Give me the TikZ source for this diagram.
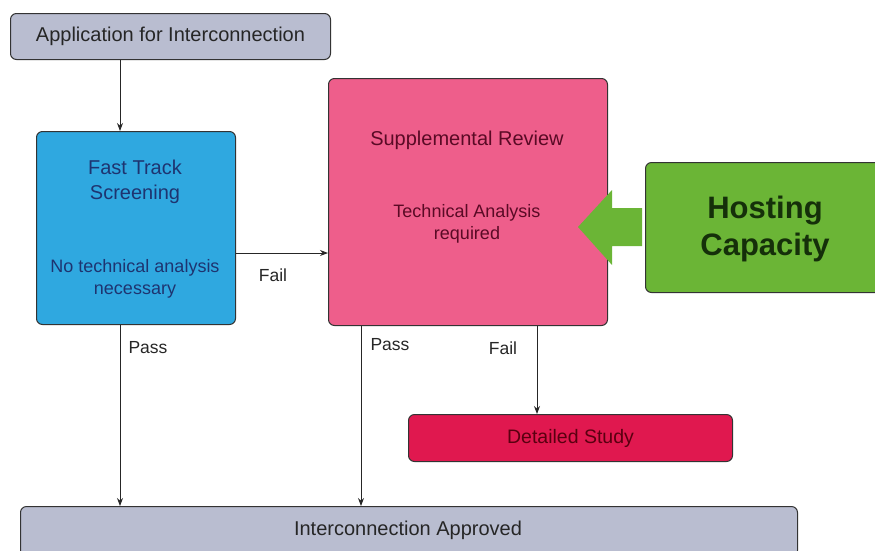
\documentclass[tikz,border=0pt]{standalone}
\usepackage{fontspec}
\setmainfont{Liberation Sans}
\usetikzlibrary{arrows.meta}
\definecolor{graybox}{HTML}{B9BDD0}
\definecolor{bluebox}{HTML}{2FA8E0}
\definecolor{bluetext}{HTML}{1E3470}
\definecolor{pinkbox}{HTML}{EE5E8B}
\definecolor{pinktext}{HTML}{5A0A25}
\definecolor{greenbox}{HTML}{6BB536}
\definecolor{greentext}{HTML}{15300A}
\definecolor{redbox}{HTML}{E0184F}
\definecolor{redtext}{HTML}{5A0010}
\begin{document}
\begin{tikzpicture}[x=1pt,y=-1pt,
  box/.style={draw=black!80, line width=1pt, rounded corners=6pt, anchor=north west, inner sep=0pt},
  conn/.style={draw=black!85, line width=0.9pt, -{Stealth[length=8pt,width=6pt]}},
  lbl/.style={font=\fontsize{17.5}{20}\selectfont, text=black!85}]
\useasboundingbox (0,0) rectangle (875,550);
% boxes
\node[box, fill=graybox, minimum width=320pt, minimum height=46pt, font=\fontsize{20}{24}\selectfont, text=black!85] (app) at (10,13) {Application for Interconnection};
\node[box, fill=bluebox, minimum width=199pt, minimum height=193pt] (fast) at (36,131) {};
\node[font=\fontsize{20}{25}\selectfont, text=bluetext, align=center] at (135,182) {Fast Track\\Screening};
\node[font=\fontsize{18}{22}\selectfont, text=bluetext, align=center] at (135,279) {No technical analysis\\necessary};
\node[box, fill=pinkbox, minimum width=279pt, minimum height=247pt] (supp) at (328,78) {};
\node[font=\fontsize{20}{24}\selectfont, text=pinktext] at (467,140) {Supplemental Review};
\node[font=\fontsize{18}{22}\selectfont, text=pinktext, align=center] at (467,224) {Technical Analysis\\required};
\node[box, fill=greenbox, minimum width=240pt, minimum height=130pt] (host) at (645,162) {};
\node[font=\bfseries\fontsize{31}{37}\selectfont, text=greentext, align=center] at (765,229) {Hosting\\Capacity};
\node[box, fill=redbox, minimum width=324pt, minimum height=47pt, font=\fontsize{19.5}{23}\selectfont, text=redtext] (det) at (408,414) {Detailed Study};
\node[box, fill=graybox, minimum width=777pt, minimum height=50pt] (appr) at (20,506) {};
\node[font=\fontsize{20}{24}\selectfont, text=black!85] at (408,530) {Interconnection Approved};
% green block arrow
\fill[greenbox] (642,208) -- (612,208) -- (612,190) -- (578,227) -- (612,265) -- (612,246) -- (642,246) -- cycle;
% connectors
\draw[conn] (app.south west -| 120,0) -- (fast.north west -| 120,0);
\draw[conn] (fast.east |- 0,253) -- (supp.west |- 0,253);
\draw[conn] (fast.south west -| 120,0) -- (appr.north west -| 120,0);
\draw[conn] (supp.south west -| 361,0) -- (appr.north west -| 361,0);
\draw[conn] (supp.south west -| 537,0) -- (det.north west -| 537,0);
% labels
\node[lbl] at (273,275) {Fail};
\node[lbl] at (148,348) {Pass};
\node[lbl] at (390,345) {Pass};
\node[lbl] at (503,348) {Fail};
\end{tikzpicture}
\end{document}
